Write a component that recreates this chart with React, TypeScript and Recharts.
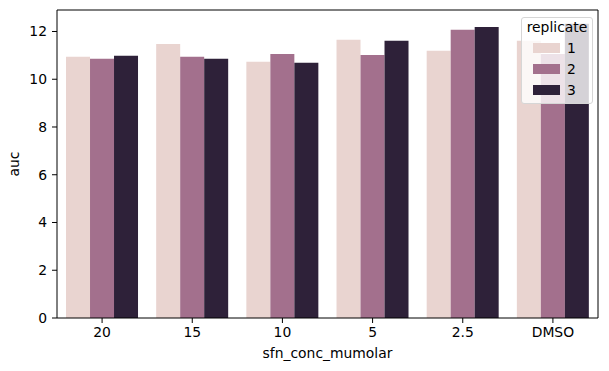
import React from 'react';
import { BarChart, Bar, XAxis, YAxis, Label } from 'recharts';

// values
const concentrations = ['20', '15', '10', '5', '2.5', 'DMSO'];
const replicate1 = [10.94, 11.48, 10.73, 11.65, 11.19, 11.61];
const replicate2 = [10.86, 10.94, 11.06, 11.02, 12.07, 11.06];
const replicate3 = [10.98, 10.86, 10.69, 11.61, 12.19, 12.32];
const yTicks = [0, 2, 4, 6, 8, 10, 12];
const replicates = ['1', '2', '3'];

const COLORS = ['#e9d4d0', '#a3708d', '#2e2139'];
const FONT = "'DejaVu Sans', sans-serif";
const FONT_SIZE = 13.9;

const data = concentrations.map((c, i) => ({
  conc: c,
  r1: replicate1[i],
  r2: replicate2[i],
  r3: replicate3[i],
}));

const tickStyle = { fontFamily: FONT, fontSize: FONT_SIZE, fill: '#000' };

// matplotlib-like legend box, semi transparent over the bars
function ReplicateLegend() {
  return (
    <div
      style={{
        position: 'absolute',
        left: 521,
        top: 17,
        width: 72,
        height: 87,
        boxSizing: 'border-box',
        border: '1px solid #d6d6d6',
        borderRadius: 3,
        background: 'rgba(255,255,255,0.8)',
        fontFamily: FONT,
        fontSize: FONT_SIZE,
        color: '#000',
      }}>
      <div style={{ position: 'absolute', top: 1, left: 0, width: '100%', textAlign: 'center', lineHeight: '16px' }}>
        replicate
      </div>
      {replicates.map((r, i) => (
        <div key={r} style={{ position: 'absolute', top: 25 + i * 21, left: 11, display: 'flex', alignItems: 'center' }}>
          <div style={{ width: 27, height: 10, background: COLORS[i] }} />
          <span style={{ marginLeft: 7, lineHeight: '10px' }}>{r}</span>
        </div>
      ))}
    </div>
  );
}

export default function App() {
  return (
    <div style={{ position: 'absolute', left: 0, top: 0, width: 609, height: 371, background: '#fff' }}>
      <BarChart
        width={609}
        height={371}
        data={data}
        margin={{ top: 9, right: 10, left: 0, bottom: 0 }}
        barCategoryGap='10%'
        barGap={0}>
        <XAxis
          dataKey='conc'
          height={53}
          stroke='#000'
          tickLine={{ stroke: '#000' }}
          tickSize={5}
          tickMargin={4}
          tick={tickStyle}
          interval={0}>
          <Label value='sfn_conc_mumolar' position='insideBottom' offset={13} style={tickStyle} />
        </XAxis>
        <XAxis xAxisId='top' orientation='top' dataKey='conc' height={1} stroke='#000' tick={false} tickLine={false} />
        <YAxis
          width={57}
          domain={[0, 12.9]}
          ticks={yTicks}
          stroke='#000'
          tickSize={5}
          tickMargin={5}
          tick={tickStyle}
          interval={0}>
          <Label value='auc' angle={-90} position='insideLeft' offset={14} style={{ ...tickStyle, textAnchor: 'middle' }} />
        </YAxis>
        <YAxis yAxisId='right' orientation='right' width={1} domain={[0, 12.9]} stroke='#000' tick={false} tickLine={false} />
        <Bar dataKey='r1' name='1' fill={COLORS[0]} isAnimationActive={false} />
        <Bar dataKey='r2' name='2' fill={COLORS[1]} isAnimationActive={false} />
        <Bar dataKey='r3' name='3' fill={COLORS[2]} isAnimationActive={false} />
      </BarChart>
      <ReplicateLegend />
    </div>
  );
}
